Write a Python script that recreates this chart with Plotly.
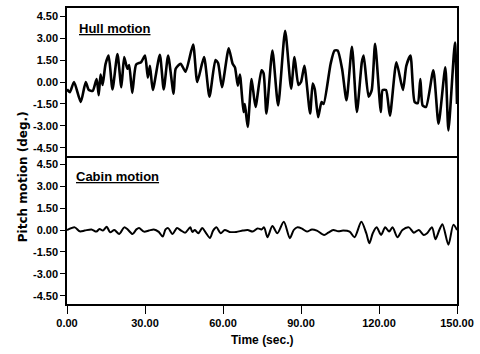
import plotly.graph_objects as go

# Hull motion (deg.) vs time (s)
hull_t = [0.0, 1.1, 2.7, 5.3, 7.2, 8.4, 9.9, 11.4, 12.2, 12.9, 13.7, 14.8, 16.0, 17.5, 19.4, 20.9,
          22.0, 23.2, 23.9, 25.1, 26.6, 28.5, 30.0, 31.1, 31.9, 33.0, 35.7, 37.2, 38.9, 41.0, 41.8,
          43.7, 45.6, 48.5, 50.1, 52.7, 54.8, 57.1, 58.1, 59.6, 62.2, 63.7, 64.6, 65.7, 66.5, 67.9,
          68.4, 69.5, 71.0, 72.5, 74.8, 75.6, 76.7, 79.0, 81.2, 83.9, 86.2, 87.5, 89.0, 90.0, 91.3,
          93.5, 94.5, 95.3, 96.6, 97.9, 98.7, 101.4, 102.9, 104.1, 105.8, 107.5, 109.6, 111.5, 113.4,
          114.1, 116.0, 117.2, 118.5, 120.7, 121.4, 122.7, 124.2, 126.7, 129.2, 130.5, 132.1, 133.7,
          134.9, 135.9, 136.8, 138.1, 140.9, 142.9, 145.5, 146.7, 149.2, 150.0]
hull_v = [-0.5, -0.7, 0.0, -1.36, 0.0, -0.55, -0.6, 0.2, -0.9, 0.5, -0.2, 1.2, 1.8, -0.5, 1.9, -0.35,
          1.7, 0.9, 1.15, -0.75, 1.2, 1.35, 1.8, 0.3, 1.1, -0.55, 1.85, -0.5, 1.8, -0.8, 0.9,
          1.25, 0.7, 2.55, 0.0, 1.7, -1.0, 1.5, 1.3, -0.35, 2.3, 1.25, 1.0, -0.25, 0.5, -2.05,
          -1.5, -3.07, 0.2, -1.7, 0.8, 0.6, -2.15, 2.15, -1.6, 3.5, -0.45, 1.7, -0.2, 0.0, 1.1,
          -2.15, -0.1, -0.5, -2.4, -1.36, -1.5, 1.25, 2.15, 2.15, 0.9, -1.25, 2.4, -2.05, 1.35,
          1.8, -1.0, -0.55, 2.6, -2.05, -0.55, -0.55, -2.3, 1.35, -0.55, 1.1, 1.8, -1.36,
          -1.45, 0.2, -1.6, -1.7, 0.8, -2.85, 1.0, -3.3, 2.7, -1.5]

# Cabin motion (deg.) vs time (s)
cabin_t = [0.0, 3.0, 4.9, 6.8, 9.4, 11.3, 12.5, 13.8, 15.3, 16.6, 18.2, 20.1, 22.0, 23.3, 25.2, 26.7,
           27.7, 29.6, 31.5, 33.4, 35.3, 36.8, 37.9, 38.9, 40.6, 42.3, 43.9, 45.5, 47.4, 48.2, 49.2,
           50.5, 52.0, 53.3, 55.0, 56.2, 57.5, 59.1, 60.7, 62.5, 65.1, 67.6, 69.5, 71.4, 73.3, 74.8,
           75.8, 77.1, 79.0, 80.9, 83.4, 85.7, 87.2, 88.5, 90.4, 92.3, 94.2, 96.1, 98.9, 100.5,
           102.4, 104.3, 106.2, 108.7, 110.6, 113.2, 115.1, 116.3, 117.6, 119.1, 120.8, 122.4,
           123.9, 125.2, 127.1, 129.0, 131.5, 133.4, 135.3, 137.2, 138.5, 140.4, 141.7, 143.2,
           144.4, 146.7, 148.6, 150.0]
cabin_v = [0.0, 0.18, -0.09, -0.04, 0.04, -0.11, 0.07, -0.04, 0.22, -0.16, 0.0, -0.27, 0.18, 0.04,
           -0.27, 0.04, 0.13, -0.11, -0.04, 0.04, -0.13, -0.45, 0.04, 0.13, -0.27, 0.13, -0.04,
           -0.18, 0.18, -0.13, 0.0, -0.22, 0.13, -0.16, -0.54, -0.04, 0.18, -0.22, 0.0, -0.13,
           -0.13, -0.04, 0.0, -0.11, 0.11, 0.04, 0.18, -0.49, 0.27, -0.22, 0.56, -0.56, 0.0, 0.18,
           0.09, -0.11, 0.04, -0.04, -0.34, -0.18, 0.0, -0.09, -0.04, -0.11, -0.49, 0.56, -0.22,
           -0.9, -0.22, 0.18, -0.34, 0.18, -0.11, 0.18, -0.49, 0.0, 0.18, -0.18, 0.0, -0.34,
           -0.22, 0.18, -0.63, 0.0, 0.4, -1.0, 0.35, 0.0]

y_ticks = [-4.5, -3.0, -1.5, 0.0, 1.5, 3.0, 4.5]
y_tick_labels = ["-4.50", "-3.00", "-1.50", "0.00", "1.50", "3.00", "4.50"]
x_ticks = [0, 30, 60, 90, 120, 150]
x_tick_labels = ["0.00", "30.00", "60.00", "90.00", "120.00", "150.00"]

FONT = "Liberation Sans Narrow, Arial Narrow, Liberation Sans, Arial, sans-serif"
tickfont = dict(family=FONT, size=11, color="black", weight="bold")

fig = go.Figure()
fig.add_trace(go.Scatter(x=hull_t, y=hull_v, mode="lines", xaxis="x", yaxis="y",
                         line=dict(color="black", width=2.6, shape="spline", smoothing=0.6),
                         showlegend=False))
fig.add_trace(go.Scatter(x=cabin_t, y=cabin_v, mode="lines", xaxis="x2", yaxis="y2",
                         line=dict(color="black", width=2.0, shape="spline", smoothing=0.8),
                         showlegend=False))

yax = dict(range=[-5.05, 5.05], tickvals=y_ticks, ticktext=y_tick_labels, ticks="outside",
           ticklen=5, tickwidth=1.2, tickcolor="black", showline=True, linecolor="black",
           linewidth=1.5, mirror=True, showgrid=False, zeroline=False, tickfont=tickfont)
fig.update_layout(
    width=480, height=354,
    margin=dict(l=67, r=17, t=6, b=50),
    paper_bgcolor="white", plot_bgcolor="white",
    xaxis=dict(domain=[0, 1], anchor="y", range=[0, 150], showticklabels=False, ticks="",
               showline=True, linecolor="black", linewidth=1.8, mirror=True,
               showgrid=False, zeroline=False),
    yaxis=dict(domain=[0.5, 1], anchor="x", **yax),
    xaxis2=dict(domain=[0, 1], anchor="y2", range=[0, 150], tickvals=x_ticks,
                ticktext=x_tick_labels, ticks="outside", ticklen=8, tickwidth=1.2,
                tickcolor="black", showline=True, linecolor="black", linewidth=1.5,
                mirror=False, showgrid=False, zeroline=False, tickfont=tickfont),
    yaxis2=dict(domain=[0, 0.5], anchor="x2", **yax),
    annotations=[
        dict(text="Hull motion", xref="paper", yref="paper", x=0.025, y=0.93,
             xanchor="left", yanchor="middle", showarrow=False,
             font=dict(family=FONT, size=13, color="black", weight="bold", lineposition="under")),
        dict(text="Cabin motion", xref="paper", yref="paper", x=0.018, y=0.43,
             xanchor="left", yanchor="middle", showarrow=False,
             font=dict(family=FONT, size=13, color="black", weight="bold", lineposition="under")),
        dict(text="Pitch motion (deg.)", xref="paper", yref="paper", x=-0.114, y=0.43,
             xanchor="center", yanchor="middle", textangle=-90, showarrow=False,
             font=dict(family="DejaVu Sans", size=12, color="black", weight="bold")),
        dict(text="Time (sec.)", xref="paper", yref="paper", x=0.5, y=-0.121,
             xanchor="center", yanchor="middle", showarrow=False,
             font=dict(family=FONT, size=12, color="black", weight="bold")),
    ],
)
fig.write_html("out.html")
